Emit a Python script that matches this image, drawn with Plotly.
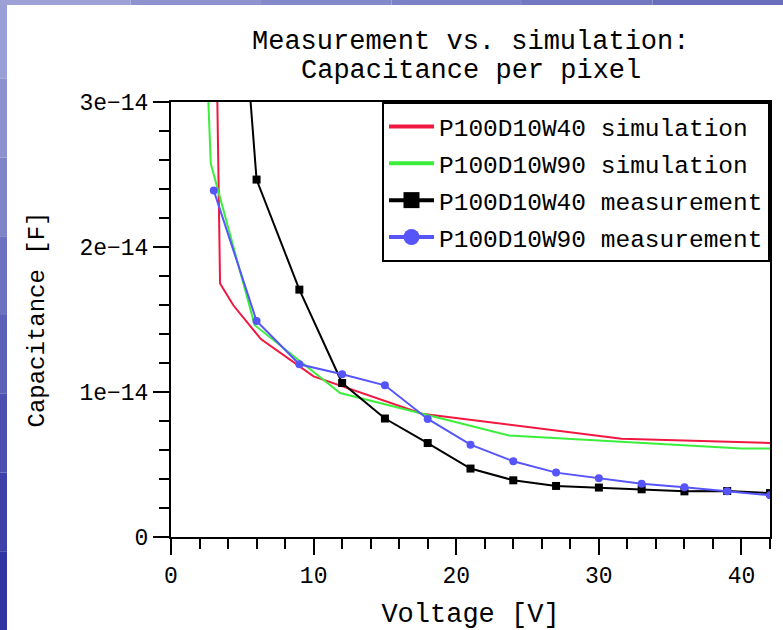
import plotly.graph_objects as go

# ---------------- data ----------------
v_sim_w40 = [3.0, 3.44, 4.37, 6.3, 10.0, 17.6, 31.6, 42.0]
c_sim_w40 = [4.65e-14, 1.748e-14, 1.598e-14, 1.365e-14, 1.108e-14, 0.85e-14, 0.678e-14, 0.648e-14]

v_sim_w90 = [2.5, 2.79, 5.87, 11.86, 23.7, 40.0, 42.0]
c_sim_w90 = [3.3e-14, 2.575e-14, 1.461e-14, 0.993e-14, 0.70e-14, 0.61e-14, 0.61e-14]

v_meas = [3, 6, 9, 12, 15, 18, 21, 24, 27, 30, 33, 36, 39, 42]
c_meas_w40 = [6.3e-14, 2.465e-14, 1.706e-14, 1.062e-14, 0.817e-14, 0.648e-14, 0.472e-14,
              0.391e-14, 0.352e-14, 0.341e-14, 0.329e-14, 0.315e-14, 0.317e-14, 0.303e-14]
c_meas_w90 = [2.389e-14, 1.49e-14, 1.191e-14, 1.122e-14, 1.046e-14, 0.814e-14, 0.637e-14,
              0.522e-14, 0.444e-14, 0.405e-14, 0.368e-14, 0.343e-14, 0.315e-14, 0.288e-14]

names = ["P100D10W40 simulation", "P100D10W90 simulation",
         "P100D10W40 measurement", "P100D10W90 measurement"]

title_lines = ["Measurement vs. simulation:", "Capacitance per pixel"]

x_tickvals = [0, 10, 20, 30, 40]
x_ticktext = ["0", "10", "20", "30", "40"]
y_tickvals = [0, 1e-14, 2e-14, 3e-14]
y_ticktext = ["0", "1e\u221214", "2e\u221214", "3e\u221214"]

# ---------------- style ----------------
RED = "rgb(240,24,66)"
GREEN = "rgb(60,238,60)"
BLACK = "black"
BLUE = "rgb(85,85,250)"
FONT = "Liberation Mono"

W, H = 783, 630
ML, MR, MT, MB = 171, 13, 102, 93
PW, PH = W - ML - MR, H - MT - MB


def px_x(px):
    return (px - ML) / PW


def px_y(py):
    return (H - MB - py) / PH


fig = go.Figure()

fig.add_trace(go.Scatter(x=v_sim_w40, y=c_sim_w40, mode="lines",
                         line=dict(color=RED, width=2), showlegend=False))
fig.add_trace(go.Scatter(x=v_sim_w90, y=c_sim_w90, mode="lines",
                         line=dict(color=GREEN, width=2), showlegend=False))
fig.add_trace(go.Scatter(x=v_meas, y=c_meas_w40, mode="lines+markers",
                         line=dict(color=BLACK, width=2),
                         marker=dict(symbol="square", size=8, color=BLACK), showlegend=False))
fig.add_trace(go.Scatter(x=v_meas, y=c_meas_w90, mode="lines+markers",
                         line=dict(color=BLUE, width=2),
                         marker=dict(symbol="circle", size=8, color=BLUE), showlegend=False))

# legend entries (larger symbols as in the reference)
leg_specs = [
    (names[0], RED, "lines", None),
    (names[1], GREEN, "lines", None),
    (names[2], BLACK, "lines+markers", "square"),
    (names[3], BLUE, "lines+markers", "circle"),
]
for i, (nm, col, mode, sym) in enumerate(leg_specs):
    kw = dict(x=[None], y=[None], mode=mode, name=nm, legendgroup=f"g{i}",
              line=dict(color=col, width=4))
    if sym:
        kw["marker"] = dict(symbol=sym, size=16, color=col)
    fig.add_trace(go.Scatter(**kw))

# slide background strips (blue texture at left and top edges)
shapes = []
left_cols = ["#9a9fd6", "#8d92cf", "#7e84c8", "#6d72c0", "#5b60b8", "#4a4fb0", "#3c40a8", "#3034a2"]
n = len(left_cols)
for i, c in enumerate(left_cols):
    shapes.append(dict(type="rect", xref="paper", yref="paper",
                       x0=px_x(0), x1=px_x(7),
                       y0=px_y(H * i / n), y1=px_y(H * (i + 1) / n),
                       fillcolor=c, line=dict(width=0), layer="below"))
top_cols = ["#9da1d6", "#8e93cf", "#8489ca", "#7d82c6", "#7277c0", "#6a6fbc"]
m = len(top_cols)
for i, c in enumerate(top_cols):
    shapes.append(dict(type="rect", xref="paper", yref="paper",
                       x0=px_x(W * i / m), x1=px_x(W * (i + 1) / m),
                       y0=px_y(0), y1=px_y(5),
                       fillcolor=c, line=dict(width=0), layer="below"))

annotations = [
    dict(text=title_lines[0], xref="paper", yref="paper", x=0.5, y=px_y(42),
         xanchor="center", yanchor="middle", showarrow=False,
         font=dict(family=FONT, size=27, color="black")),
    dict(text=title_lines[1], xref="paper", yref="paper", x=0.5, y=px_y(71),
         xanchor="center", yanchor="middle", showarrow=False,
         font=dict(family=FONT, size=27, color="black")),
]

fig.update_layout(
    width=W, height=H,
    margin=dict(l=ML, r=MR, t=MT, b=MB, autoexpand=False),
    paper_bgcolor="white", plot_bgcolor="white",
    font=dict(family=FONT, color="black"),
    legend=dict(x=1, xanchor="right", y=1, yanchor="top",
                bgcolor="white", bordercolor="black", borderwidth=2,
                font=dict(family=FONT, size=24.5, color="black"),
                itemwidth=45,
                traceorder="grouped", tracegroupgap=2),
    shapes=shapes,
    annotations=annotations,
)

fig.update_xaxes(
    range=[0, 42], showgrid=False, zeroline=False, automargin=False,
    showline=True, linecolor="black", linewidth=2, mirror=True,
    ticks="outside", ticklen=16, tickwidth=1.5, tickcolor="black",
    tickvals=x_tickvals, ticktext=x_ticktext,
    tickfont=dict(family=FONT, size=23, color="black"),
    minor=dict(dtick=2, tick0=0, ticks="outside", ticklen=10, tickwidth=1.5, tickcolor="black", showgrid=False),
    title=dict(text="Voltage [V]", font=dict(family=FONT, size=27, color="black"), standoff=18),
)
fig.update_yaxes(
    range=[0, 3e-14], showgrid=False, zeroline=False, automargin=False,
    showline=True, linecolor="black", linewidth=2, mirror=True,
    ticks="outside", ticklen=16, tickwidth=1.5, tickcolor="black",
    tickvals=y_tickvals, ticktext=y_ticktext,
    tickfont=dict(family=FONT, size=23, color="black"),
    minor=dict(dtick=0.2e-14, tick0=0, ticks="outside", ticklen=10, tickwidth=1.5, tickcolor="black", showgrid=False),
    title=dict(text="Capacitance [F]", font=dict(family=FONT, size=24, color="black"), standoff=28),
)

fig.write_html("out.html", config={"displayModeBar": False},
               post_script="document.body.style.margin='0';")
